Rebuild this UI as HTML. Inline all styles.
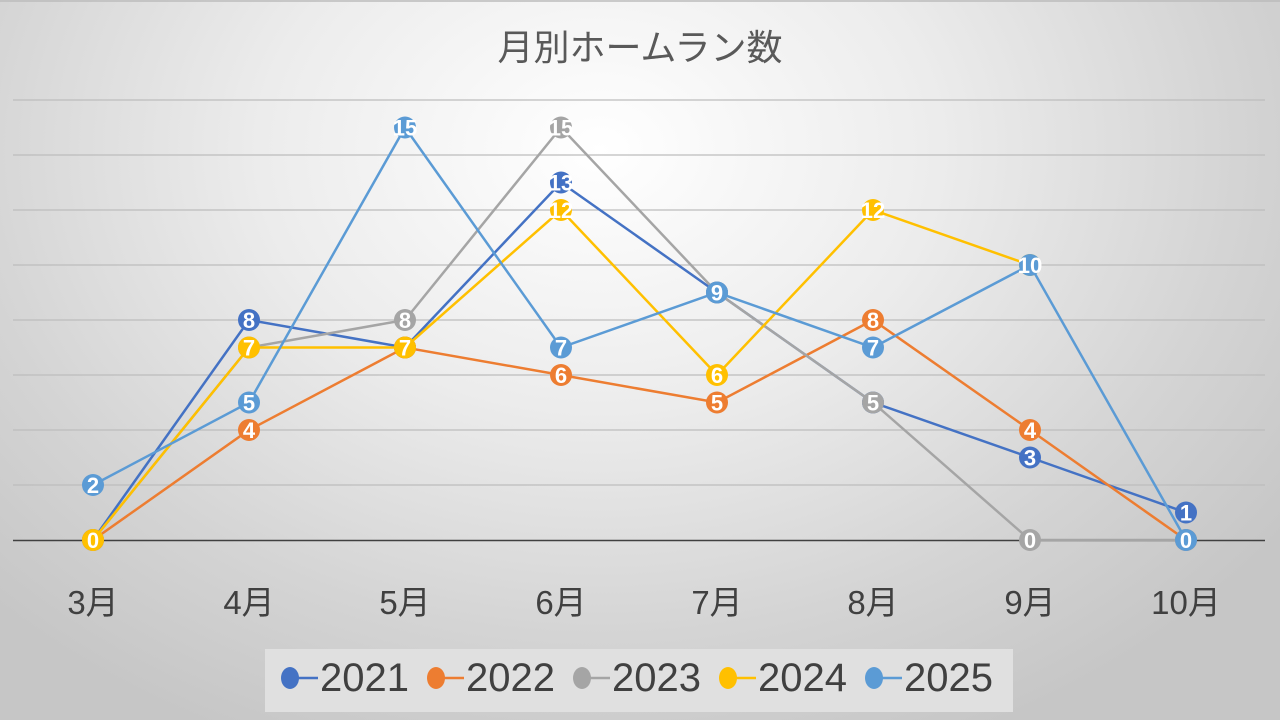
<!DOCTYPE html>
<html><head><meta charset="utf-8"><style>
html,body{margin:0;padding:0}
body{width:1280px;height:720px;overflow:hidden;background:radial-gradient(ellipse 850px 650px at 600px 150px,#ffffff 0%,#ececec 40%,#d4d4d4 75%,#c6c6c6 100%);font-family:"Liberation Sans","Noto Sans CJK JP",sans-serif}
</style></head><body>
<svg width="1280" height="720" xmlns="http://www.w3.org/2000/svg" style="position:absolute;left:0;top:0">
<line x1="0" y1="1" x2="1280" y2="1" stroke="#bbb" stroke-width="1.5"/>
<text x="640" y="60" text-anchor="middle" font-size="36" fill="#595959" font-family="Liberation Sans, Noto Sans CJK JP, sans-serif">月別ホームラン数</text>
<g stroke="#bdbdbd" stroke-width="1.2">
<line x1="13" y1="100" x2="1265" y2="100"/><line x1="13" y1="155" x2="1265" y2="155"/>
<line x1="13" y1="210" x2="1265" y2="210"/><line x1="13" y1="265" x2="1265" y2="265"/>
<line x1="13" y1="320" x2="1265" y2="320"/><line x1="13" y1="375" x2="1265" y2="375"/>
<line x1="13" y1="430" x2="1265" y2="430"/><line x1="13" y1="485" x2="1265" y2="485"/>
</g>
<line x1="13" y1="540.5" x2="1265" y2="540.5" stroke="#404040" stroke-width="1.5"/>
<g font-size="33" fill="#404040" text-anchor="middle" font-family="Liberation Sans, Noto Sans CJK JP, sans-serif">
<text x="93" y="614">3月</text><text x="249" y="614">4月</text><text x="405" y="614">5月</text><text x="561" y="614">6月</text><text x="717" y="614">7月</text><text x="873" y="614">8月</text><text x="1030" y="614">9月</text><text x="1186" y="614">10月</text>
</g>
<g id="series" font-size="22" font-weight="bold" fill="#fff" text-anchor="middle"></g>
<rect x="265" y="649" width="748" height="63" fill="#e0e0e0"/>
<g font-size="40" fill="#404040">
<g><line x1="283" y1="678" x2="318" y2="678" stroke="#4472C4" stroke-width="2.5"/><ellipse cx="290" cy="678" rx="9" ry="11" fill="#4472C4"/><text x="320" y="691">2021</text></g>
<g><line x1="429" y1="678" x2="464" y2="678" stroke="#ED7D31" stroke-width="2.5"/><ellipse cx="436" cy="678" rx="9" ry="11" fill="#ED7D31"/><text x="466" y="691">2022</text></g>
<g><line x1="575" y1="678" x2="610" y2="678" stroke="#A5A5A5" stroke-width="2.5"/><ellipse cx="582" cy="678" rx="9" ry="11" fill="#A5A5A5"/><text x="612" y="691">2023</text></g>
<g><line x1="721" y1="678" x2="756" y2="678" stroke="#FFC000" stroke-width="2.5"/><ellipse cx="728" cy="678" rx="9" ry="11" fill="#FFC000"/><text x="758" y="691">2024</text></g>
<g><line x1="867" y1="678" x2="902" y2="678" stroke="#5B9BD5" stroke-width="2.5"/><ellipse cx="874" cy="678" rx="9" ry="11" fill="#5B9BD5"/><text x="904" y="691">2025</text></g>
</g>
</svg>
<script>
const xs=[93,249,405,561,717,873,1030,1186];
const y=v=>540-v*27.5;
const data=[["#4472C4",[0,8,7,13,9,5,3,1]],["#ED7D31",[0,4,7,6,5,8,4,0]],["#A5A5A5",[0,7,8,15,9,5,0,0]],["#FFC000",[0,7,7,12,6,12,10]],["#5B9BD5",[2,5,15,7,9,7,10,0]]];
const g=document.getElementById('series');
let h='';
for(const [c,d] of data){
 h+=`<polyline fill="none" stroke="${c}" stroke-width="2.5" points="${d.map((v,i)=>xs[i]+','+y(v)).join(' ')}"/>`;
 d.forEach((v,i)=>{h+=`<circle cx="${xs[i]}" cy="${y(v)}" r="11" fill="${c}"/><text x="${xs[i]}" y="${y(v)+8}">${v}</text>`;});
}
g.innerHTML=h;
</script>
</body></html>
